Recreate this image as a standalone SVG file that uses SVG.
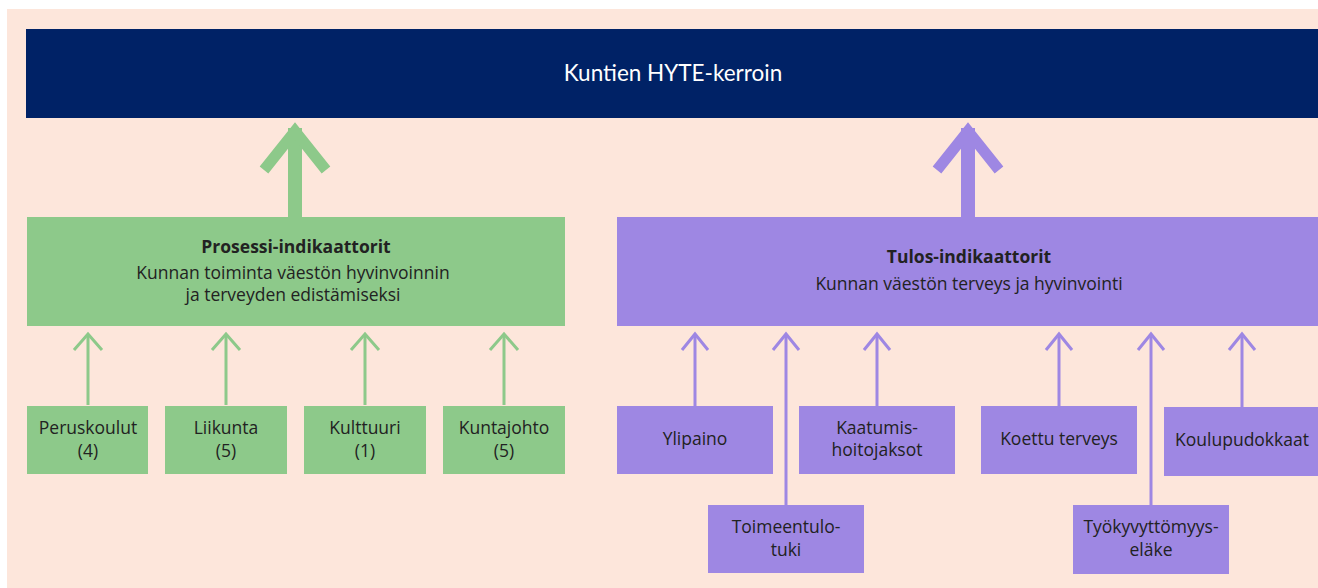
<svg xmlns="http://www.w3.org/2000/svg" width="1318" height="588" viewBox="0 0 1318 588">
<style>
.bg{fill:#fde6db}
.hdr{fill:#002266}
.g{fill:#8dc98a}
.p{fill:#9e87e3}
.gl{stroke:#8dc98a;fill:none}
.pl{stroke:#9e87e3;fill:none}
.t{font-family:"Open Sans","Liberation Sans",sans-serif;font-size:17.5px;fill:#222;text-anchor:middle}
.b{font-weight:bold}
.h{font-family:Lato,"Liberation Sans",sans-serif;font-size:22.5px;fill:#fff;text-anchor:middle}
</style>
<rect x="0" y="0" width="1318" height="588" fill="#fff"/>
<rect class="bg" x="7" y="9" width="1311" height="579"/>
<g id="header"><rect class="hdr" x="26" y="29" width="1292" height="89"/><text class="h" x="673" y="81">Kuntien HYTE-kerroin</text></g>
<g id="connectors">
<line class="gl" x1="295" y1="217" x2="295" y2="128" stroke-width="14"/>
<polyline class="gl" points="264,170 295,131 326,170" stroke-width="11"/>
<line class="pl" x1="968" y1="217" x2="968" y2="128" stroke-width="14"/>
<polyline class="pl" points="937,170 968,131 999,170" stroke-width="11"/>
<g stroke-width="3">
<line class="gl" x1="88" y1="405" x2="88" y2="335"/><polyline class="gl" points="74,350 88,334 102,350"/>
<line class="gl" x1="226" y1="405" x2="226" y2="335"/><polyline class="gl" points="212,350 226,334 240,350"/>
<line class="gl" x1="365" y1="405" x2="365" y2="335"/><polyline class="gl" points="351,350 365,334 379,350"/>
<line class="gl" x1="504" y1="405" x2="504" y2="335"/><polyline class="gl" points="490,350 504,334 518,350"/>
<line class="pl" x1="695" y1="406" x2="695" y2="335"/><polyline class="pl" points="682,350 695,334 708,350"/>
<line class="pl" x1="786" y1="505" x2="786" y2="335"/><polyline class="pl" points="773,350 786,334 799,350"/>
<line class="pl" x1="877" y1="406" x2="877" y2="335"/><polyline class="pl" points="864,350 877,334 890,350"/>
<line class="pl" x1="1059" y1="406" x2="1059" y2="335"/><polyline class="pl" points="1046,350 1059,334 1072,350"/>
<line class="pl" x1="1151" y1="505" x2="1151" y2="335"/><polyline class="pl" points="1138,350 1151,334 1164,350"/>
<line class="pl" x1="1242" y1="407" x2="1242" y2="335"/><polyline class="pl" points="1229,350 1242,334 1255,350"/>
</g>
</g>
<g id="prosessi"><rect class="g" x="27" y="217" width="538" height="109"/>
<text class="t b" x="296" y="253">Prosessi-indikaattorit</text>
<text class="t" x="293" y="279">Kunnan toiminta väestön hyvinvoinnin</text>
<text class="t" x="293" y="301">ja terveyden edistämiseksi</text></g>
<g id="tulos"><rect class="p" x="617" y="217" width="701" height="109"/>
<text class="t b" x="969" y="263">Tulos-indikaattorit</text>
<text class="t" x="969" y="290">Kunnan väestön terveys ja hyvinvointi</text></g>
<g id="peruskoulut"><rect class="g" x="27" y="406" width="121" height="68"/><text class="t" x="88" y="434">Peruskoulut</text><text class="t" x="88" y="457">(4)</text></g>
<g id="liikunta"><rect class="g" x="165" y="406" width="122" height="68"/><text class="t" x="226" y="434">Liikunta</text><text class="t" x="226" y="457">(5)</text></g>
<g id="kulttuuri"><rect class="g" x="304" y="406" width="122" height="68"/><text class="t" x="365" y="434">Kulttuuri</text><text class="t" x="365" y="457">(1)</text></g>
<g id="kuntajohto"><rect class="g" x="443" y="406" width="122" height="68"/><text class="t" x="504" y="434">Kuntajohto</text><text class="t" x="504" y="457">(5)</text></g>
<g id="ylipaino"><rect class="p" x="617" y="406" width="156" height="68"/><text class="t" x="695" y="445">Ylipaino</text></g>
<g id="kaatumis"><rect class="p" x="799" y="406" width="156" height="68"/><text class="t" x="877" y="434">Kaatumis-</text><text class="t" x="877" y="456">hoitojaksot</text></g>
<g id="koettu"><rect class="p" x="981" y="406" width="156" height="68"/><text class="t" x="1059" y="445">Koettu terveys</text></g>
<g id="koulupudokkaat"><rect class="p" x="1164" y="407" width="154" height="69"/><text class="t" x="1242" y="446">Koulupudokkaat</text></g>
<g id="toimeentulo"><rect class="p" x="708" y="505" width="156" height="68"/><text class="t" x="786" y="533">Toimeentulo-</text><text class="t" x="786" y="556">tuki</text></g>
<g id="tyokyvyttomyys"><rect class="p" x="1073" y="505" width="156" height="69"/><text class="t" x="1151" y="533">Työkyvyttömyys-</text><text class="t" x="1151" y="556">eläke</text></g>
</svg>
